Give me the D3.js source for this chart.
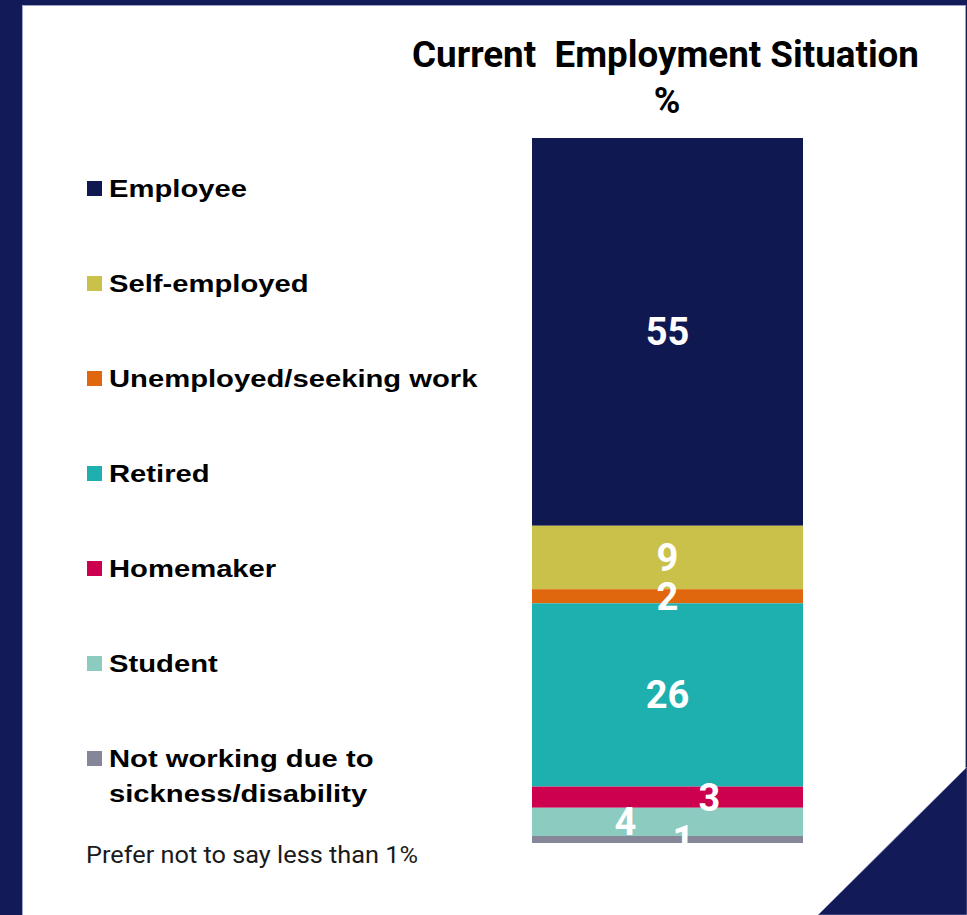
<!DOCTYPE html>
<html>
<head>
<meta charset="utf-8">
<script src="https://cdn.jsdelivr.net/npm/d3@7"></script>
<style>
    body { margin: 0; background: #fff; }
    svg { display: block; }
</style>
</head>
<body>
<div id="chart"></div>
<script>
const categories = ['Employee', 'Self-employed', 'Unemployed/seeking work', 'Retired', 'Homemaker', 'Student', 'Not working due to sickness/disability'];
const values = [55, 9, 2, 26, 3, 4, 1];
const colors = ['#0f1850', '#c9c149', '#e1670e', '#1eafaf', '#cc004f', '#8ccbbf', '#868699'];
const legendLines = [['Employee'], ['Self-employed'], ['Unemployed/seeking work'], ['Retired'], ['Homemaker'], ['Student'], ['Not working due to', 'sickness/disability']];
const yTicks = [0, 100];

const W = 967, H = 915;
const navy = '#121a58';

const svg = d3.select('#chart').append('svg')
    .attr('width', W)
    .attr('height', H);

// frame
svg.append('rect').attr('width', W).attr('height', H).style('fill', navy);
svg.append('rect')
    .attr('x', 22.5).attr('y', 5.5)
    .attr('width', 943).attr('height', H)
    .style('fill', '#fff')
    .style('stroke', '#9ea3cc')
    .style('stroke-width', 1);
svg.append('path')
    .attr('d', `M818,${H}L${W},767L${W},${H}Z`)
    .style('fill', navy)
    .style('stroke', '#9ea3cc')
    .style('stroke-width', 0.6);

// title
svg.append('text')
    .attr('x', 665.5).attr('y', 67)
    .attr('text-anchor', 'middle')
    .attr('textLength', 507)
    .attr('lengthAdjust', 'spacingAndGlyphs')
    .style('white-space', 'pre')
    .style('font-family', 'Roboto, sans-serif')
    .style('font-weight', 700)
    .style('font-size', '36px')
    .style('fill', '#000')
    .text('Current  Employment Situation');
svg.append('text')
    .attr('x', 667).attr('y', 113)
    .attr('text-anchor', 'middle')
    .style('font-family', 'Roboto, sans-serif')
    .style('font-weight', 700)
    .style('font-size', '36px')
    .style('fill', '#000')
    .text('%');

// scales
const x = d3.scaleBand().domain(['Total']).range([532, 803]).padding(0);
const y = d3.scaleLinear().domain(d3.extent(yTicks)).range([843, 138]);

const row = { group: 'Total' };
categories.forEach((c, i) => { row[c] = values[i]; });
const series = d3.stack().keys(categories).order(d3.stackOrderReverse)([row]);
const color = d3.scaleOrdinal().domain(categories).range(colors);

svg.selectAll('.seg')
    .data(series)
    .enter().append('rect')
    .attr('class', 'seg')
    .attr('x', x('Total'))
    .attr('width', x.bandwidth())
    .attr('y', d => y(d[0][1]))
    .attr('height', d => y(d[0][0]) - y(d[0][1]))
    .style('fill', d => color(d.key));

// labels, clipped to the plot area
svg.append('clipPath').attr('id', 'plotClip')
    .append('rect').attr('x', 0).attr('y', 0).attr('width', W).attr('height', y(0));

const nudge = { 'Homemaker': 42, 'Student': -42, 'Not working due to sickness/disability': 16 };

svg.append('g').attr('clip-path', 'url(#plotClip)')
    .selectAll('.val')
    .data(series)
    .enter().append('text')
    .attr('class', 'val')
    .attr('x', d => x('Total') + x.bandwidth() / 2 + (nudge[d.key] || 0))
    .attr('y', d => (y(d[0][0]) + y(d[0][1])) / 2)
    .attr('dy', '0.355em')
    .attr('text-anchor', 'middle')
    .style('font-family', 'Roboto, sans-serif')
    .style('font-weight', 700)
    .style('font-size', '38px')
    .style('fill', '#fff')
    .text(d => d[0].data[d.key]);

// legend
const legend = svg.selectAll('.legend')
    .data(categories)
    .enter().append('g')
    .attr('class', 'legend')
    .attr('transform', (d, i) => `translate(87, ${197 + i * 95})`);

legend.append('rect')
    .attr('x', 0).attr('y', -16)
    .attr('width', 15).attr('height', 15)
    .style('fill', d => color(d));

// the source stretches the legend text sideways
const stretch = 1.27;
legend.append('text')
    .attr('x', 22).attr('y', 0)
    .style('font-family', '"Liberation Sans", Arial, sans-serif')
    .style('font-weight', 700)
    .style('font-size', '23px')
    .style('fill', '#000')
    .selectAll('tspan')
    .data((d, i) => legendLines[i])
    .enter().append('tspan')
    .attr('x', 22)
    .attr('dy', (d, i) => i === 0 ? 0 : 35)
    .text(d => d)
    .each(function () {
        const len = this.getComputedTextLength();
        d3.select(this)
            .attr('textLength', len * stretch)
            .attr('lengthAdjust', 'spacingAndGlyphs');
    });

// footnote
svg.append('text')
    .attr('x', 86).attr('y', 863)
    .attr('textLength', 332)
    .attr('lengthAdjust', 'spacingAndGlyphs')
    .style('font-family', 'Roboto, sans-serif')
    .style('font-weight', 400)
    .style('font-size', '23px')
    .style('fill', '#1a1a1a')
    .text('Prefer not to say less than 1%');
</script>
</body>
</html>
